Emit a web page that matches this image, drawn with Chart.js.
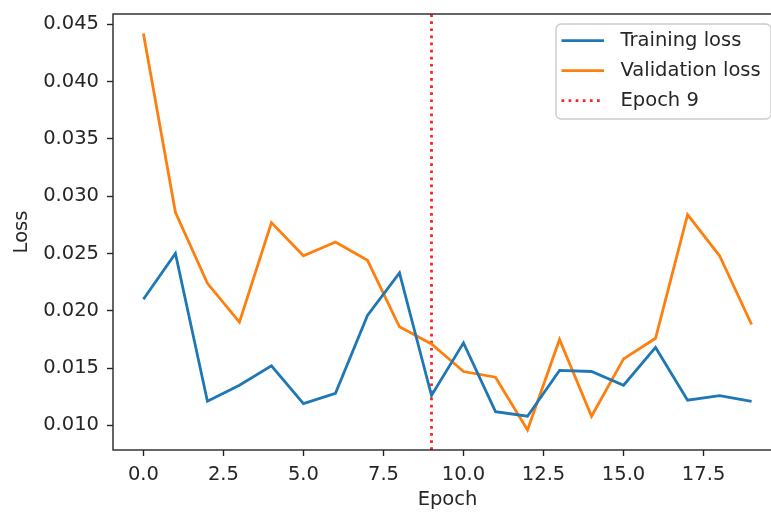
<!DOCTYPE html>
<html>
<head>
<meta charset="utf-8">
<title>Training / Validation loss</title>
<script src="https://cdn.jsdelivr.net/npm/chart.js@4.4.1/dist/chart.umd.min.js"></script>
<style>
    html, body { margin: 0; padding: 0; background: #ffffff; overflow: hidden; }
    #wrap { width: 771px; height: 512px; overflow: hidden; }
    canvas { display: block; }
</style>
</head>
<body>
<div id="wrap"><canvas id="chart-loss" width="800" height="512"></canvas></div>
<script>
// ============================================
// DATA
// ============================================

const epochs = [0, 1, 2, 3, 4, 5, 6, 7, 8, 9, 10, 11, 12, 13, 14, 15, 16, 17, 18, 19];

const trainingLoss = [
    0.0210, 0.0250, 0.0121, 0.0135, 0.0152, 0.0119, 0.0128, 0.0196, 0.0233, 0.0126,
    0.0172, 0.0112, 0.0108, 0.0148, 0.0147, 0.0135, 0.0168, 0.0122, 0.0126, 0.0121
];

const validationLoss = [
    0.0442, 0.0286, 0.0224, 0.0190, 0.0277, 0.0248, 0.0260, 0.0244, 0.0186, 0.0171,
    0.0147, 0.0142, 0.0096, 0.0175, 0.0108, 0.0158, 0.0176, 0.0284, 0.0248, 0.0188
];

const markedEpoch = 9;

const xTicks = [0, 2.5, 5, 7.5, 10, 12.5, 15, 17.5];
const yTicks = [0.010, 0.015, 0.020, 0.025, 0.030, 0.035, 0.040, 0.045];

const xLimits = [-0.95, 19.95];
const yLimits = [0.00785, 0.0459];

// ============================================
// STYLE
// ============================================

const ink = '#262626';
const fontFamily = "'DejaVu Sans', 'Liberation Sans', sans-serif";
const fontSize = 19.5;

const colors = {
    training: '#1f77b4',
    validation: '#ff7f0e',
    marker: '#ff2020'
};

// ============================================
// PLUGINS
// ============================================

// Frame on all four sides, like matplotlib spines
const spinesPlugin = {
    id: 'spines',
    afterDatasetsDraw(chart) {
        const { ctx, chartArea: a } = chart;
        ctx.save();
        ctx.strokeStyle = ink;
        ctx.lineWidth = 1.4;
        ctx.strokeRect(a.left, a.top, a.right - a.left, a.bottom - a.top);
        ctx.restore();
    }
};

// Boxed legend in the upper right corner of the plot
const boxLegendPlugin = {
    id: 'boxLegend',
    afterDraw(chart) {
        const { ctx, chartArea: a } = chart;
        const w = 215, h = 95;
        const x0 = a.right - 11 - w;
        const y0 = a.top + 10;

        ctx.save();
        ctx.beginPath();
        ctx.roundRect(x0, y0, w, h, 5);
        ctx.fillStyle = 'rgba(255, 255, 255, 0.8)';
        ctx.fill();
        ctx.strokeStyle = '#cccccc';
        ctx.lineWidth = 1.4;
        ctx.stroke();

        chart.data.datasets.forEach((ds, i) => {
            const cy = y0 + 16.7 + i * 30;
            ctx.beginPath();
            ctx.setLineDash(ds.borderDash || []);
            ctx.strokeStyle = ds.borderColor;
            ctx.lineWidth = ds.borderWidth;
            ctx.moveTo(x0 + 5.5, cy);
            ctx.lineTo(x0 + 48, cy);
            ctx.stroke();
            ctx.setLineDash([]);

            ctx.fillStyle = ink;
            ctx.font = `${fontSize}px ${fontFamily}`;
            ctx.textBaseline = 'middle';
            ctx.textAlign = 'left';
            ctx.fillText(ds.label, x0 + 64.5, cy);
        });
        ctx.restore();
    }
};

// Tick labels may overhang the plot box, as in matplotlib
function noLabelPadding(scale) {
    scale.paddingTop = 0;
    scale.paddingBottom = 0;
    scale.paddingLeft = 0;
    scale.paddingRight = 0;
}

// ============================================
// CHART
// ============================================

const ctx = document.getElementById('chart-loss');

new Chart(ctx, {
    type: 'line',
    data: {
        labels: epochs,
        datasets: [
            {
                label: 'Training loss',
                data: trainingLoss,
                borderColor: colors.training,
                borderWidth: 2.8,
                pointRadius: 0,
                tension: 0,
                fill: false
            },
            {
                label: 'Validation loss',
                data: validationLoss,
                borderColor: colors.validation,
                borderWidth: 2.8,
                pointRadius: 0,
                tension: 0,
                fill: false
            },
            {
                label: 'Epoch ' + markedEpoch,
                data: [
                    { x: markedEpoch, y: yLimits[0] },
                    { x: markedEpoch, y: yLimits[1] }
                ],
                borderColor: colors.marker,
                borderWidth: 2.8,
                borderDash: [2.7, 4.4],
                borderCapStyle: 'butt',
                pointRadius: 0,
                fill: false
            }
        ]
    },
    options: {
        responsive: false,
        devicePixelRatio: 1,
        animation: false,
        events: [],
        layout: {
            padding: { left: 0, top: 14, right: 18, bottom: 0 }
        },
        plugins: {
            legend: { display: false },
            tooltip: { enabled: false }
        },
        scales: {
            x: {
                type: 'linear',
                min: xLimits[0],
                max: xLimits[1],
                afterBuildTicks: (scale) => {
                    scale.ticks = xTicks.map(v => ({ value: v }));
                },
                afterFit: (scale) => {
                    scale.height = 62;
                    noLabelPadding(scale);
                },
                grid: {
                    drawOnChartArea: false,
                    drawTicks: true,
                    tickLength: 6,
                    tickWidth: 1.4,
                    tickColor: ink
                },
                border: { display: false },
                ticks: {
                    color: ink,
                    padding: 7,
                    maxRotation: 0,
                    autoSkip: false,
                    font: { family: fontFamily, size: fontSize },
                    callback: (v) => Number(v).toFixed(1)
                },
                title: {
                    display: true,
                    text: 'Epoch',
                    color: ink,
                    padding: { top: 0, bottom: 0 },
                    font: { family: fontFamily, size: fontSize }
                }
            },
            y: {
                type: 'linear',
                min: yLimits[0],
                max: yLimits[1],
                afterBuildTicks: (scale) => {
                    scale.ticks = yTicks.map(v => ({ value: v }));
                },
                afterFit: (scale) => {
                    scale.width = 113;
                    noLabelPadding(scale);
                },
                grid: {
                    drawOnChartArea: false,
                    drawTicks: true,
                    tickLength: 6,
                    tickWidth: 1.4,
                    tickColor: ink
                },
                border: { display: false },
                ticks: {
                    color: ink,
                    padding: 8,
                    autoSkip: false,
                    font: { family: fontFamily, size: fontSize },
                    callback: (v) => Number(v).toFixed(3)
                },
                title: {
                    display: true,
                    text: 'Loss',
                    color: ink,
                    padding: { top: 10, bottom: 0 },
                    font: { family: fontFamily, size: fontSize }
                }
            }
        }
    },
    plugins: [spinesPlugin, boxLegendPlugin]
});
</script>
</body>
</html>
